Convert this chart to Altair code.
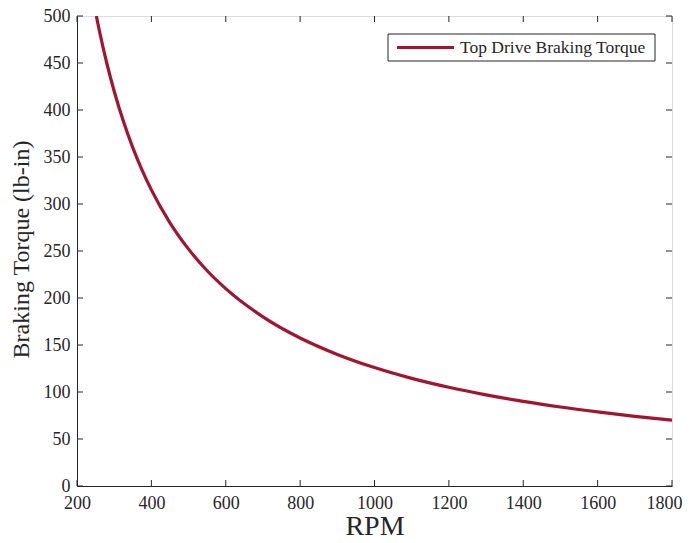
import altair as alt
import pandas as pd

rpm = [252, 260, 280, 300, 325, 350, 375, 400, 450, 500, 550, 600, 700, 800,
       900, 1000, 1100, 1200, 1300, 1400, 1500, 1600, 1700, 1800]
torque = [500, 484.6, 450, 420, 387.7, 360, 336, 315, 280, 252, 229, 210, 180, 157.5,
          140, 126, 114.5, 105, 97, 90, 84, 78.8, 74.1, 70]
series_name = "Top Drive Braking Torque"
x_ticks = [200, 400, 600, 800, 1000, 1200, 1400, 1600, 1800]
y_ticks = [0, 50, 100, 150, 200, 250, 300, 350, 400, 450, 500]

W, H = 595, 470
FONT = "Liberation Serif"
TXT = "#262626"
LINE = "#A2142F"

df = pd.DataFrame({"rpm": rpm, "torque": torque, "series": series_name})
dx = pd.DataFrame({"xt": x_ticks})
dy = pd.DataFrame({"yt": y_ticks})
dl = pd.DataFrame({"label": [series_name]})

xscale = alt.Scale(domain=[200, 1800], nice=False, zero=False)
yscale = alt.Scale(domain=[0, 500], nice=False)

line = alt.Chart(df).mark_line(strokeWidth=3.2, interpolate="monotone", clip=True,
                               color=LINE).encode(
    x=alt.X("rpm:Q", scale=xscale, title="RPM",
            axis=alt.Axis(values=x_ticks, format="d", ticks=False, labelPadding=8,
                          labelFontSize=18, labelFont=FONT, labelColor=TXT,
                          labelAlign={"condition": {"test": "datum.value == 1800",
                                                    "value": "right"},
                                      "value": "center"},
                          labelOffset={"condition": {"test": "datum.value == 1800",
                                                     "value": 10},
                                       "value": 0},
                          titleFont=FONT, titleFontSize=28,
                          titleFontWeight="normal", titleColor=TXT,
                          titleX=W / 2, titleY=48.5, titleBaseline="alphabetic",
                          domainColor=TXT, grid=False, labelFlush=False)),
    y=alt.Y("torque:Q", scale=yscale, title="Braking Torque (lb-in)",
            axis=alt.Axis(values=y_ticks, format="d", ticks=False, labelPadding=7,
                          labelFontSize=18, labelFont=FONT, labelColor=TXT,
                          titleFont=FONT, titleFontSize=24,
                          titleFontWeight="normal", titleColor=TXT,
                          titleX=-49, titleY=H / 2 - 2, titleBaseline="alphabetic",
                          domainColor=TXT, grid=False, labelFlush=False)),
)

tick_len = 6
bx = alt.Chart(dx).mark_rule(color=TXT, strokeWidth=1).encode(
    x=alt.X("xt:Q", scale=xscale), y=alt.value(H), y2=alt.value(H - tick_len))
tx = alt.Chart(dx).mark_rule(color=TXT, strokeWidth=1).encode(
    x=alt.X("xt:Q", scale=xscale), y=alt.value(0), y2=alt.value(tick_len))
ly = alt.Chart(dy).mark_rule(color=TXT, strokeWidth=1).encode(
    y=alt.Y("yt:Q", scale=yscale), x=alt.value(0), x2=alt.value(tick_len))
ry = alt.Chart(dy).mark_rule(color=TXT, strokeWidth=1).encode(
    y=alt.Y("yt:Q", scale=yscale), x=alt.value(W), x2=alt.value(W - tick_len))

# legend box
leg_box = alt.Chart(dl).mark_rect(fill="white", stroke=TXT, strokeWidth=1).encode(
    x=alt.value(311), x2=alt.value(578), y=alt.value(18), y2=alt.value(45))
leg_line = alt.Chart(dl).mark_rule(color=LINE, strokeWidth=3.2).encode(
    x=alt.value(320), x2=alt.value(377), y=alt.value(31.5))
leg_text = alt.Chart(dl).mark_text(font=FONT, fontSize=17.5, color=TXT, align="left",
                                   baseline="middle").encode(
    x=alt.value(383), y=alt.value(31.5), text="label:N")

chart = alt.layer(line, bx, tx, ly, ry, leg_box, leg_line, leg_text).properties(
    width=W, height=H,
    autosize=alt.AutoSizeParams(type="none"),
    padding={"left": 69, "top": 8, "right": 11, "bottom": 49},
).configure_view(stroke=TXT, strokeWidth=1).configure(background="white")

chart.save("out.html", embed_options={"renderer": "svg", "actions": False})
